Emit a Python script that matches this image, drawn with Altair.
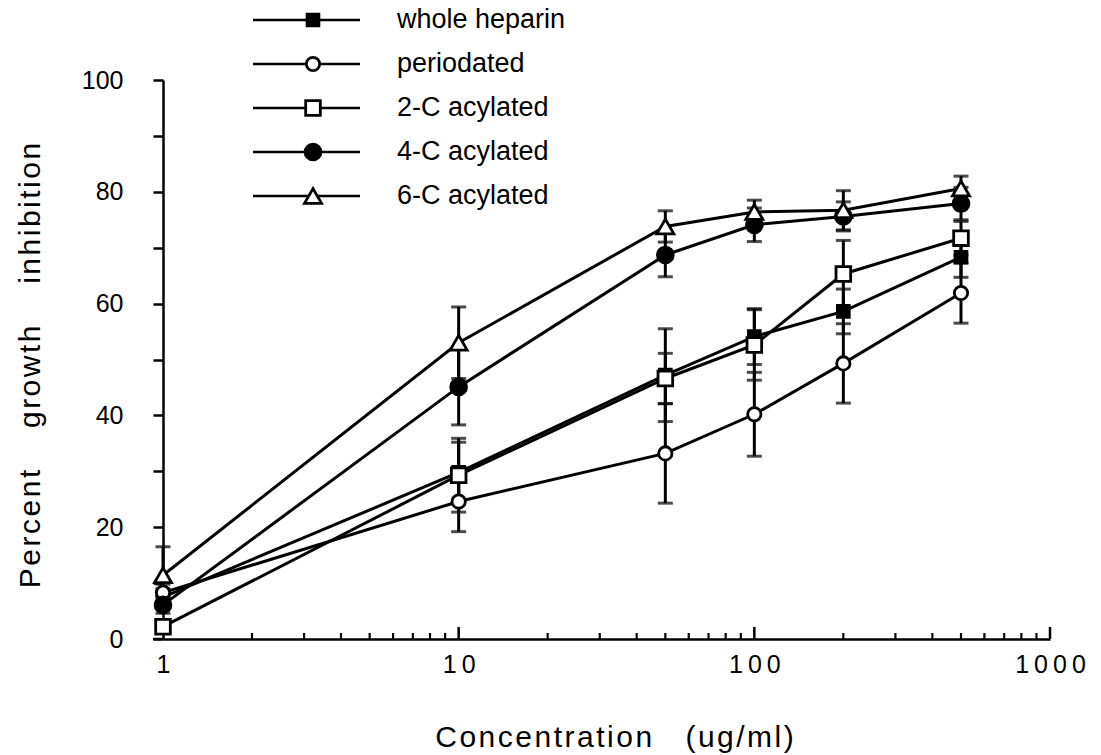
import altair as alt
import pandas as pd

# ---- data ----
conc = [1, 10, 50, 100, 200, 500]
series = ["whole heparin", "periodated", "2-C acylated", "4-C acylated", "6-C acylated"]

whole_heparin = [7.5, 29.8, 47.2, 54.1, 58.6, 68.3]
whole_heparin_err = [1.5, 5.4, 8.3, 5.0, 4.0, 3.6]
periodated = [8.3, 24.6, 33.2, 40.2, 49.3, 61.9]
periodated_err = [1.5, 5.4, 8.9, 7.5, 7.1, 5.4]
acyl2 = [2.2, 29.3, 46.6, 52.6, 65.3, 71.7]
acyl2_err = [1.0, 6.6, 4.5, 6.3, 6.0, 3.0]
acyl4 = [6.1, 45.1, 68.7, 74.1, 75.6, 77.9]
acyl4_err = [1.5, 6.8, 3.9, 3.0, 2.6, 2.9]
acyl6 = [11.4, 53.0, 73.8, 76.4, 76.7, 80.6]
acyl6_err = [5.1, 6.4, 2.8, 2.1, 3.5, 2.2]

y_values = [0, 10, 20, 30, 40, 50, 60, 70, 80, 90, 100]
x_labels = [1, 10, 100, 1000]
minor_ticks = [2, 3, 4, 5, 6, 7, 8, 9, 20, 30, 40, 50, 60, 70, 80, 90,
               200, 300, 400, 500, 600, 700, 800, 900]
major_ticks = [10, 100, 1000]

rows = []
for name, vals, errs in zip(series,
                            [whole_heparin, periodated, acyl2, acyl4, acyl6],
                            [whole_heparin_err, periodated_err, acyl2_err, acyl4_err, acyl6_err]):
    for c, v, e in zip(conc, vals, errs):
        rows.append(dict(series=name, conc=c, value=v, lo=v - e, hi=v + e))
df = pd.DataFrame(rows)

W, H = 887, 559
FONT = "Liberation Sans"
HAIR = "\u200a"
NB = "\u00a0"


def spaced(text, gap):
    words = text.split(" ")
    return (NB * gap).join(HAIR.join(list(w)) for w in words)


YTITLE = spaced("Percent growth inhibition", 5)
XTITLE = spaced("Concentration (ug/ml)", 4)

xscale = alt.Scale(type="log", domain=[1, 1000], nice=False)
yscale = alt.Scale(domain=[0, 100], nice=False)

xaxis = alt.Axis(values=x_labels, format="d", ticks=False, labelPadding=13,
                 labelExpr="join(split(datum.label, ''), '\u2009')",
                 labelFlush=False, labelFontSize=25, title=XTITLE,
                 titleX=451, titleY=98, titleAlign="center", titleBaseline="middle",
                 titleFontSize=30)
yaxis = alt.Axis(values=y_values, labelExpr="datum.value % 20 == 0 ? datum.label : ''",
                 tickSize=10, labelPadding=30, labelFlush=False, labelFontSize=25,
                 title=YTITLE, titleX=-133, titleY=285, titleAngle=-90,
                 titleAlign="center", titleBaseline="middle", titleFontSize=30)

X = alt.X("conc:Q", scale=xscale, axis=xaxis)

shape_scale = alt.Scale(domain=series, range=["square", "circle", "square", "circle", "triangle-up"])
fill_scale = alt.Scale(domain=series, range=["black", "white", "white", "black", "white"])
size_scale = alt.Scale(domain=series, range=[140, 289, 270, 300, 290])

base = alt.Chart(df)

lines = base.mark_line(color="black", strokeWidth=3).encode(
    x=X, y=alt.Y("value:Q", scale=yscale, axis=yaxis), detail="series:N")

err = base.mark_rule(color="black", strokeWidth=3).encode(
    x=X, y=alt.Y("lo:Q", scale=yscale, title=YTITLE), y2="hi:Q")

cap_hi = base.mark_tick(orient="horizontal", size=15, thickness=3, color="black").encode(
    x=X, y=alt.Y("hi:Q", scale=yscale, title=YTITLE))
cap_lo = base.mark_tick(orient="horizontal", size=15, thickness=3, color="black").encode(
    x=X, y=alt.Y("lo:Q", scale=yscale, title=YTITLE))

points = base.mark_point(filled=True, stroke="black", strokeWidth=2.8, opacity=1).encode(
    x=X, y=alt.Y("value:Q", scale=yscale, title=YTITLE),
    shape=alt.Shape("series:N", scale=shape_scale, legend=None),
    fill=alt.Fill("series:N", scale=fill_scale, legend=None),
    size=alt.Size("series:N", scale=size_scale, legend=None))

minor_df = pd.DataFrame({"t": minor_ticks})
major_df = pd.DataFrame({"t": major_ticks})
minor = alt.Chart(minor_df).mark_rule(color="black", strokeWidth=2.2).encode(
    x=alt.X("t:Q", scale=xscale, axis=xaxis), y=alt.value(H), y2=alt.value(H - 6))
major = alt.Chart(major_df).mark_rule(color="black", strokeWidth=2.5).encode(
    x=alt.X("t:Q", scale=xscale, axis=xaxis), y=alt.value(H), y2=alt.value(H - 12))
ext = alt.Chart(pd.DataFrame({"a": [0]})).mark_rule(color="black", strokeWidth=2.5).encode(
    x=alt.value(-10), x2=alt.value(0), y=alt.value(H))

main = alt.layer(lines, err, cap_hi, cap_lo, points, minor, major, ext)

# ---- legend drawn above the plot ----
ldf = pd.DataFrame({"series": series, "row": list(range(len(series)))})
LY = alt.Y("row:Q", scale=alt.Scale(domain=[0, 4], range=[-60, 116]), axis=None)
lbase = alt.Chart(ldf)
lrule = lbase.mark_rule(color="black", strokeWidth=2.5).encode(
    x=alt.value(90), x2=alt.value(197), y=LY)
lpts = lbase.mark_point(filled=True, stroke="black", strokeWidth=2.8, opacity=1).encode(
    x=alt.value(150), y=LY,
    shape=alt.Shape("series:N", scale=shape_scale, legend=None),
    fill=alt.Fill("series:N", scale=fill_scale, legend=None),
    size=alt.Size("series:N", scale=size_scale, legend=None))
ltext = lbase.mark_text(align="left", baseline="middle", fontSize=27, font=FONT,
                        color="black").encode(x=alt.value(234), y=LY, text="series:N")
legend = alt.layer(lrule, lpts, ltext)

chart = alt.layer(main, legend).resolve_scale(y="independent").properties(
    width=W, height=H,
    autosize=alt.AutoSizeParams(type="none"),
    padding={"left": 163, "top": 80, "right": 51, "bottom": 116},
    background="white",
).configure_view(stroke=None).configure_axis(
    grid=False, domainColor="black", domainWidth=2.5, tickColor="black", tickWidth=2.5,
    labelColor="black", titleColor="black", labelFont=FONT, titleFont=FONT,
    titleFontWeight="normal",
)

chart.save("out.html", embed_options={"renderer": "svg", "actions": False})
